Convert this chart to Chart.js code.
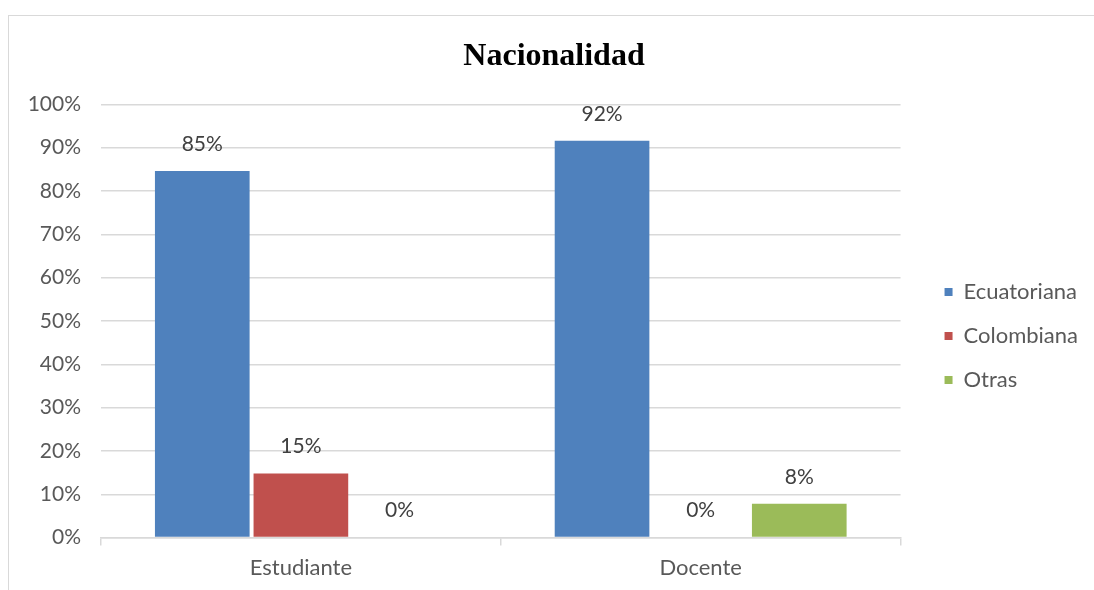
<!DOCTYPE html>
<html>
<head>
<meta charset="utf-8">
<script src="https://cdn.jsdelivr.net/npm/chart.js@4.4.0/dist/chart.umd.min.js"></script>
<style>
  html, body { margin: 0; padding: 0; background: #fff; }
  #frame { position: absolute; left: 8px; top: 15px; width: 1100px; height: 590px; border: 1px solid #d9d9d9; }
  #wrap { position: absolute; left: 0; top: 0; width: 1094px; height: 590px; }
</style>
</head>
<body>
<div id="frame"></div>
<div id="wrap"><canvas id="grafico"></canvas></div>
<script>
const categorias = ["Estudiante", "Docente"];
const ecuatoriana = [84.6, 91.6];
const colombiana = [14.8, 0];
const otras = [0, 7.8];

const fuente = "Lato, 'Open Sans', sans-serif";

// etiquetas encima de cada barra
const etiquetasBarras = {
  id: "etiquetasBarras",
  afterDatasetsDraw(chart) {
    const ctx = chart.ctx;
    ctx.save();
    ctx.font = "21px " + fuente;
    ctx.fillStyle = "#404040";
    ctx.textAlign = "center";
    ctx.textBaseline = "middle";
    chart.data.datasets.forEach((ds, i) => {
      chart.getDatasetMeta(i).data.forEach((bar, j) => {
        ctx.fillText(Math.round(ds.data[j]) + "%", bar.x, bar.y - 27);
      });
    });
    ctx.restore();
  },
};

new Chart(document.getElementById("grafico"), {
  type: "bar",
  data: {
    labels: categorias,
    datasets: [
      { label: "Ecuatoriana", data: ecuatoriana, backgroundColor: "#4F81BD" },
      { label: "Colombiana", data: colombiana, backgroundColor: "#C0504D" },
      { label: "Otras", data: otras, backgroundColor: "#9BBB59" },
    ],
  },
  options: {
    responsive: true,
    maintainAspectRatio: false,
    animation: false,
    layout: { padding: { left: 20, right: 6, top: 0, bottom: 0 } },
    datasets: { bar: { categoryPercentage: 0.74, barPercentage: 0.96 } },
    plugins: {
      title: {
        display: true,
        text: "Nacionalidad",
        color: "#000",
        font: { family: "'Liberation Serif', serif", size: 32, weight: "bold" },
        padding: { top: 38, bottom: 28 },
      },
      legend: {
        position: "right",
        align: "center",
        title: { display: true, text: "", font: { size: 10 }, padding: { top: 35, bottom: 35 } },
        labels: {
          boxWidth: 8,
          boxHeight: 8,
          padding: 22,
          color: "#595959",
          font: { family: fuente, size: 22 },
        },
      },
      tooltip: { enabled: false },
    },
    scales: {
      y: {
        min: 0,
        max: 100,
        afterFit: (scale) => { scale.width = 81; },
        ticks: {
          stepSize: 10,
          padding: 20,
          color: "#595959",
          font: { family: fuente, size: 21 },
          callback: (v) => v + "%",
        },
        grid: { color: "#d9d9d9", lineWidth: 1.5, drawTicks: false },
        border: { display: false },
      },
      // eje vacío para separar el área del gráfico de la leyenda
      margen: {
        type: "linear",
        position: "right",
        afterFit: (scale) => { scale.width = 22; },
        ticks: { display: false },
        grid: { display: false },
        border: { display: false },
      },
      x: {
        ticks: {
          padding: 9,
          color: "#595959",
          font: { family: fuente, size: 22 },
        },
        grid: { offset: true, drawOnChartArea: false, tickLength: 8, color: "#d9d9d9", lineWidth: 1.5 },
        border: { color: "#d9d9d9", width: 1.5 },
      },
    },
  },
  plugins: [etiquetasBarras],
});
</script>
</body>
</html>
